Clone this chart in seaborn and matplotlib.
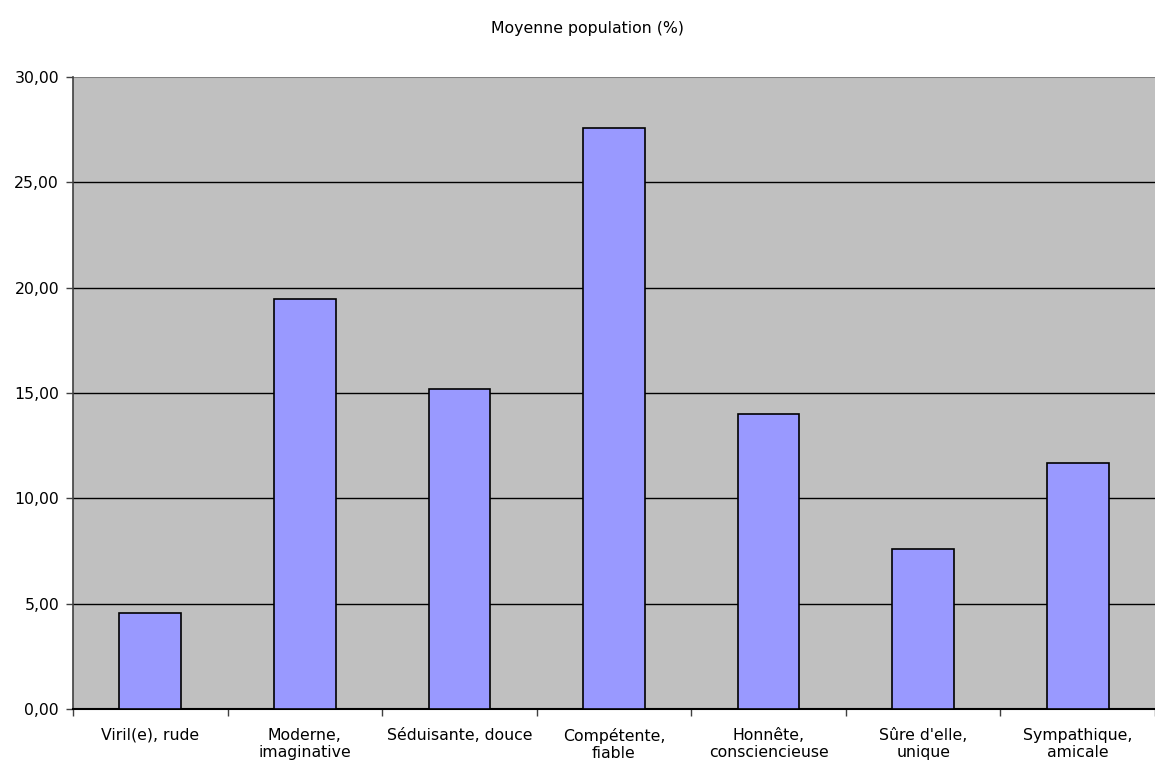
import matplotlib
matplotlib.use('Agg')
import matplotlib.pyplot as plt
import seaborn as sns
import pandas as pd
from matplotlib.ticker import FuncFormatter, FixedLocator

# Data
categories = ['Viril(e), rude', 'Moderne,\nimaginative', 'Séduisante, douce',
              'Compétente,\nfiable', 'Honnête,\nconsciencieuse', "Sûre d'elle,\nunique",
              'Sympathique,\namicale']
values = [4.56, 19.46, 15.19, 27.58, 14.00, 7.59, 11.68]
title = 'Moyenne population (%)'

df = pd.DataFrame({'cat': categories, 'val': values})

sns.set_style('white')
plt.rcParams['font.family'] = ['DejaVu Sans']
plt.rcParams['text.color'] = 'black'
plt.rcParams['xtick.color'] = 'black'
plt.rcParams['ytick.color'] = 'black'

fig = plt.figure(figsize=(11.55, 7.61), dpi=100)
ax = fig.add_axes([73 / 1155, 1 - 709 / 761, 1 - 73 / 1155, (709 - 77) / 761])
ax.set_facecolor('#C0C0C0')

sns.barplot(data=df, x='cat', y='val', color='#9999FF', width=0.4,
            edgecolor='black', linewidth=1.2, saturation=1, ax=ax, zorder=3)

ax.set_xlim(-0.5, len(categories) - 0.5)
ax.set_ylim(0, 30)
ax.set_yticks([0, 5, 10, 15, 20, 25, 30])
ax.yaxis.set_major_formatter(FuncFormatter(lambda v, p: f'{v:.2f}'.replace('.', ',')))
for y in [5, 10, 15, 20, 25]:
    ax.axhline(y, color='black', linewidth=1, zorder=1)
ax.axhline(30, color='#808080', linewidth=1.5, zorder=1)

# x ticks between categories
ax.xaxis.set_minor_locator(FixedLocator([i + 0.5 for i in range(-1, len(categories))]))
ax.tick_params(axis='x', which='major', length=0, labelsize=11.3, pad=13.5, labelcolor='black')
ax.tick_params(axis='x', which='minor', length=5, width=1, color='#404040', direction='out', bottom=True)
ax.tick_params(axis='y', length=5, width=1, color='#404040', direction='out', left=True,
               labelsize=11.3, pad=5, labelcolor='black')
for lbl in ax.get_xticklabels():
    lbl.set_horizontalalignment('center')

for s in ['top', 'right']:
    ax.spines[s].set_visible(False)
ax.spines['left'].set_color('#404040')
ax.spines['bottom'].set_color('black')
ax.spines['left'].set_linewidth(1.2)
ax.spines['bottom'].set_linewidth(1.5)

ax.set_xlabel('')
ax.set_ylabel('')
fig.text(588 / 1155, 1 - 28 / 761, title, ha='center', va='center', fontsize=11.3, color='black')

fig.savefig('out.png', dpi=100, facecolor='white')
